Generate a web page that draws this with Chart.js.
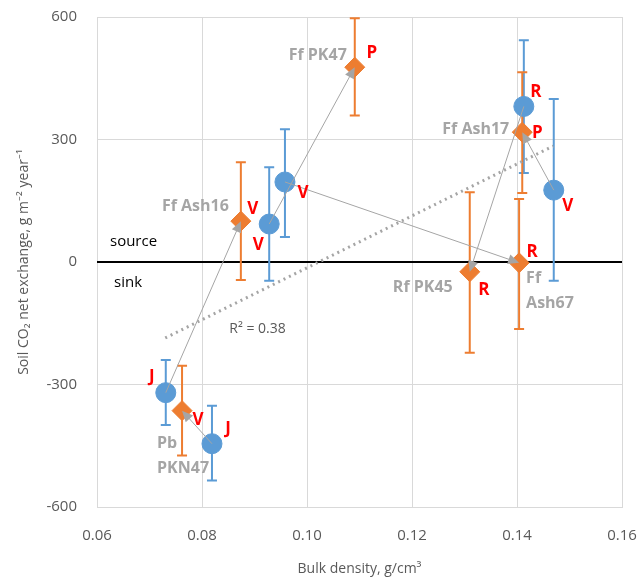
<!DOCTYPE html>
<html>
<head>
<meta charset="utf-8">
<script src="https://cdn.jsdelivr.net/npm/chart.js@4"></script>
<style>
  html, body { margin: 0; padding: 0; background: #fff; }
  #wrap { width: 640px; height: 577px; }
</style>
</head>
<body>
<div id="wrap"><canvas id="chart" width="640" height="577"></canvas></div>
<script>
// Blue circles (first measurement)
const blueX = [0.0731, 0.0819, 0.0928, 0.0958, 0.1413, 0.1470];
const blueY = [-320, -445, 93, 196, 381, 176];
const blueLow = [-399, -535, -46, 61, 218, -46];
const blueHigh = [-240, -352, 232, 325, 543, 399];
const blueTag = ['J', 'J', 'V', 'V', 'R', 'V'];

// Orange diamonds (second measurement)
const orangeX = [0.0762, 0.0874, 0.1091, 0.1310, 0.1404, 0.1410];
const orangeY = [-364, 100, 477, -24, -2, 318];
const orangeLow = [-474, -44, 359, -222, -164, 169];
const orangeHigh = [-254, 244, 597, 171, 154, 465];
const orangeTag = ['V', 'V', 'P', 'R', 'R', 'P'];
const siteNames = [['Pb', 'PKN47'], ['Ff Ash16'], ['Ff PK47'], ['Rf PK45'], ['Ff', 'Ash67'], ['Ff Ash17']];
const arrowFrom = [1, 0, 2, 4, 3, 5]; // blue index that points to each orange

// Linear trend
const trendX = [0.0730, 0.1469];
const trendY = [-186, 284];

const xTicks = [0.06, 0.08, 0.10, 0.12, 0.14, 0.16];
const yTicks = [-600, -300, 0, 300, 600];

const FONT = 'Open Sans';
const BLUE = '#5B9BD5';
const ORANGE = '#ED7D31';
const GREY = '#A5A5A5';

// label offsets in px from the marker centre
const blueTagOff = [[-14, -16], [16, -15], [-11, 21], [18, 11], [12, -14], [14, 16]];
const orangeTagOff = [[16, 10], [12, -12], [17, -14], [14, 18], [13, -11], [15, 1]];
const siteAnchor = [
  { dx: -25, dy: 33, align: 'left' },
  { dx: -12, dy: -15, align: 'right' },
  { dx: -8, dy: -12, align: 'right' },
  { dx: -17, dy: 16, align: 'right' },
  { dx: 7, dy: 16, align: 'left' },
  { dx: -13, dy: -3, align: 'right' }
];

function toPts(xs, ys) {
  return xs.map((x, i) => ({ x: x, y: ys[i] }));
}

// error bars, zero line, arrows and text
const extrasPlugin = {
  id: 'extras',
  beforeDatasetsDraw(chart) {
    const { ctx, scales: { x, y }, chartArea } = chart;
    ctx.save();
    // zero line
    ctx.strokeStyle = '#000';
    ctx.lineWidth = 2;
    ctx.beginPath();
    ctx.moveTo(chartArea.left, y.getPixelForValue(0));
    ctx.lineTo(chartArea.right, y.getPixelForValue(0));
    ctx.stroke();

    const bars = (xs, lo, hi, color) => {
      ctx.strokeStyle = color;
      ctx.lineWidth = 2;
      xs.forEach((v, i) => {
        const px = x.getPixelForValue(v);
        const y1 = y.getPixelForValue(lo[i]);
        const y2 = y.getPixelForValue(hi[i]);
        ctx.beginPath();
        ctx.moveTo(px, y1); ctx.lineTo(px, y2);
        ctx.moveTo(px - 5, y1); ctx.lineTo(px + 5, y1);
        ctx.moveTo(px - 5, y2); ctx.lineTo(px + 5, y2);
        ctx.stroke();
      });
    };
    bars(blueX, blueLow, blueHigh, BLUE);
    bars(orangeX, orangeLow, orangeHigh, ORANGE);

    ctx.fillStyle = '#000';
    ctx.font = '15px ' + FONT;
    ctx.textAlign = 'left';
    ctx.textBaseline = 'middle';
    ctx.fillText('source', chartArea.left + 13, y.getPixelForValue(0) - 20);
    ctx.fillText('sink', chartArea.left + 17, y.getPixelForValue(0) + 21);
    ctx.restore();
  },
  afterDatasetsDraw(chart) {
    const { ctx, scales: { x, y } } = chart;
    ctx.save();
    // arrows blue -> orange
    ctx.strokeStyle = GREY;
    ctx.fillStyle = GREY;
    ctx.lineWidth = 1;
    orangeX.forEach((ox, i) => {
      const b = arrowFrom[i];
      const x0 = x.getPixelForValue(blueX[b]);
      const y0 = y.getPixelForValue(blueY[b]);
      const x1 = x.getPixelForValue(ox);
      const y1 = y.getPixelForValue(orangeY[i]);
      const ang = Math.atan2(y1 - y0, x1 - x0);
      ctx.beginPath();
      ctx.moveTo(x0, y0);
      ctx.lineTo(x1 - 8 * Math.cos(ang), y1 - 8 * Math.sin(ang));
      ctx.stroke();
      ctx.beginPath();
      ctx.moveTo(x1, y1);
      ctx.lineTo(x1 - 11 * Math.cos(ang) + 5 * Math.sin(ang), y1 - 11 * Math.sin(ang) - 5 * Math.cos(ang));
      ctx.lineTo(x1 - 11 * Math.cos(ang) - 5 * Math.sin(ang), y1 - 11 * Math.sin(ang) + 5 * Math.cos(ang));
      ctx.closePath();
      ctx.fill();
    });

    // red letters
    ctx.fillStyle = '#FF0000';
    ctx.font = 'bold 17px ' + FONT;
    ctx.textAlign = 'center';
    ctx.textBaseline = 'middle';
    blueX.forEach((v, i) => {
      ctx.fillText(blueTag[i], x.getPixelForValue(v) + blueTagOff[i][0], y.getPixelForValue(blueY[i]) + blueTagOff[i][1]);
    });
    orangeX.forEach((v, i) => {
      ctx.fillText(orangeTag[i], x.getPixelForValue(v) + orangeTagOff[i][0], y.getPixelForValue(orangeY[i]) + orangeTagOff[i][1]);
    });

    // site names
    ctx.fillStyle = GREY;
    ctx.font = 'bold 16px ' + FONT;
    orangeX.forEach((v, i) => {
      const a = siteAnchor[i];
      ctx.textAlign = a.align;
      const px = x.getPixelForValue(v) + a.dx;
      const py = y.getPixelForValue(orangeY[i]) + a.dy;
      siteNames[i].forEach((line, k) => ctx.fillText(line, px, py + k * 25));
    });

    // R squared
    ctx.fillStyle = '#595959';
    ctx.font = '14px ' + FONT;
    ctx.textAlign = 'left';
    ctx.fillText('R² = 0.38', x.getPixelForValue(0.0852), y.getPixelForValue(-165));
    ctx.restore();
  }
};

const chart = new Chart(document.getElementById('chart'), {
  type: 'scatter',
  data: {
    datasets: [
      {
        label: 'trend',
        type: 'line',
        data: toPts(trendX, trendY),
        borderColor: GREY,
        borderWidth: 3,
        borderDash: [2, 4],
        pointRadius: 0,
        fill: false
      },
      {
        label: 'blue',
        data: toPts(blueX, blueY),
        pointStyle: 'circle',
        pointRadius: 10,
        backgroundColor: BLUE,
        borderColor: BLUE
      },
      {
        label: 'orange',
        data: toPts(orangeX, orangeY),
        pointStyle: 'rectRot',
        pointRadius: 10,
        backgroundColor: ORANGE,
        borderColor: ORANGE
      }
    ]
  },
  options: {
    responsive: false,
    animation: false,
    layout: { padding: { top: 17, right: 18, left: 12, bottom: 0 } },
    plugins: {
      legend: { display: false },
      tooltip: { enabled: false }
    },
    scales: {
      x: {
        type: 'linear',
        min: 0.06,
        max: 0.16,
        afterBuildTicks: axis => { axis.ticks = xTicks.map(v => ({ value: v })); },
        afterFit: axis => {
          axis.height = 70;
          axis.paddingLeft = 0;
          axis.paddingRight = 0;
        },
        grid: { color: '#D9D9D9', drawTicks: false },
        border: { color: '#D9D9D9' },
        ticks: {
          padding: 20,
          color: '#595959',
          font: { family: FONT, size: 15 },
          callback: v => v.toFixed(2)
        },
        title: {
          display: true,
          text: 'Bulk density, g/cm³',
          color: '#595959',
          font: { family: FONT, size: 14 },
          padding: { top: 4, bottom: 0 }
        }
      },
      y: {
        type: 'linear',
        min: -600,
        max: 600,
        afterBuildTicks: axis => { axis.ticks = yTicks.map(v => ({ value: v })); },
        afterFit: axis => {
          axis.width = 85;
          axis.paddingTop = 0;
          axis.paddingBottom = 0;
        },
        grid: { color: '#D9D9D9', drawTicks: false },
        border: { color: '#D9D9D9' },
        ticks: {
          padding: 20,
          color: '#595959',
          font: { family: FONT, size: 15 }
        },
        title: {
          display: true,
          text: 'Soil CO₂ net exchange, g m⁻² year⁻¹',
          color: '#595959',
          font: { family: FONT, size: 14 },
          padding: { bottom: 6 }
        }
      }
    }
  },
  plugins: [extrasPlugin]
});
</script>
</body>
</html>
